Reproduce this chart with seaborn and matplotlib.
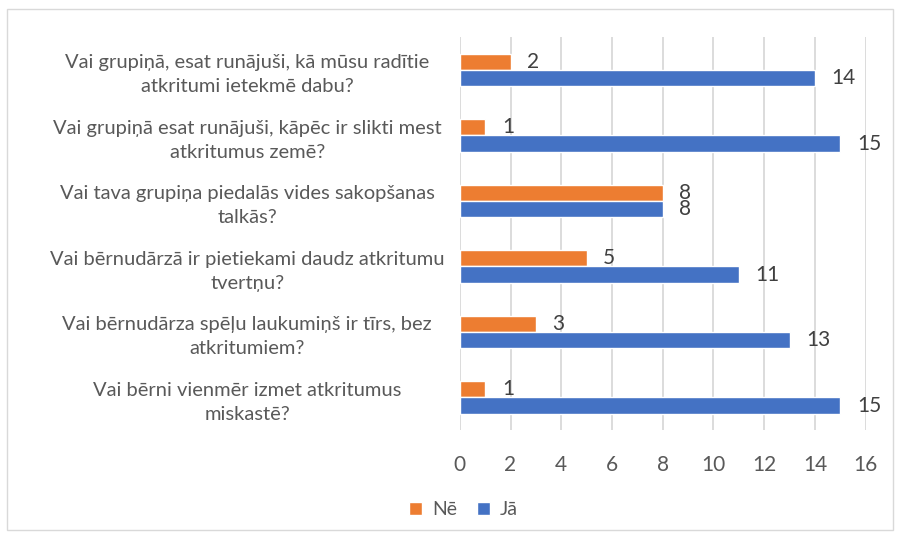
import pandas as pd
import seaborn as sns
import matplotlib.pyplot as plt
from matplotlib.patches import Rectangle

# chart data
questions = [
    'Vai grupiņā, esat runājuši, kā mūsu radītie\natkritumi ietekmē dabu?',
    'Vai grupiņā esat runājuši, kāpēc ir slikti mest\natkritumus zemē?',
    'Vai tava grupiņa piedalās vides sakopšanas\ntalkās?',
    'Vai bērnudārzā ir pietiekami daudz atkritumu\ntvertņu?',
    'Vai bērnudārza spēļu laukumiņš ir tīrs, bez\natkritumiem?',
    'Vai bērni vienmēr izmet atkritumus\nmiskastē?',
]
ne_values = [2, 1, 8, 5, 3, 1]
ja_values = [14, 15, 8, 11, 13, 15]
series = ['Nē', 'Jā']
colors = ['#ED7D31', '#4472C4']
xticks = [0, 2, 4, 6, 8, 10, 12, 14, 16]

df = pd.DataFrame({
    'question': questions * 2,
    'answer': ['Nē'] * len(questions) + ['Jā'] * len(questions),
    'count': ne_values + ja_values,
})

sns.set_style('white')
plt.rcParams['font.family'] = ['Lato', 'DejaVu Sans']
text_color = '#595959'

fig = plt.figure(figsize=(8.98, 5.39), dpi=100)
ax = fig.add_axes([0.512, 0.202, 0.452, 0.729])

sns.barplot(data=df, y='question', x='count', hue='answer', hue_order=series,
            palette=colors, orient='h', width=0.5, gap=0, ax=ax,
            saturation=1, legend=True)

# value labels
for container in ax.containers:
    ax.bar_label(container, padding=12, fontsize=15, color='#404040')

ax.set_xlim(0, 16)
ax.set_xticks(xticks)
ax.set_xlabel('')
ax.set_ylabel('')
ax.grid(axis='x', color='#d9d9d9', linewidth=1.3)
ax.set_axisbelow(True)
for s in ax.spines.values():
    s.set_visible(False)
ax.tick_params(axis='x', colors=text_color, labelsize=15, length=0, pad=18)
ax.tick_params(axis='y', colors=text_color, labelsize=14.5, length=0)
for lab in ax.get_yticklabels():
    lab.set_horizontalalignment('center')
    lab.set_multialignment('center')
    lab.set_linespacing(1.5)
# pad is in points: centre of the labels sits ~212px left of the axes
ax.yaxis.set_tick_params(pad=153)

ax.legend(loc='center', bbox_to_anchor=(0.516, 0.054), bbox_transform=fig.transFigure,
          ncol=2, frameon=False, fontsize=14, labelcolor=text_color,
          handlelength=0.7, handleheight=0.7, handletextpad=0.5, columnspacing=1.0)

# chart frame
fig.patches.append(Rectangle((0.008, 0.017), 0.986, 0.966, transform=fig.transFigure,
                             fill=False, edgecolor='#d9d9d9', linewidth=1))

fig.savefig('out.png', dpi=100)
